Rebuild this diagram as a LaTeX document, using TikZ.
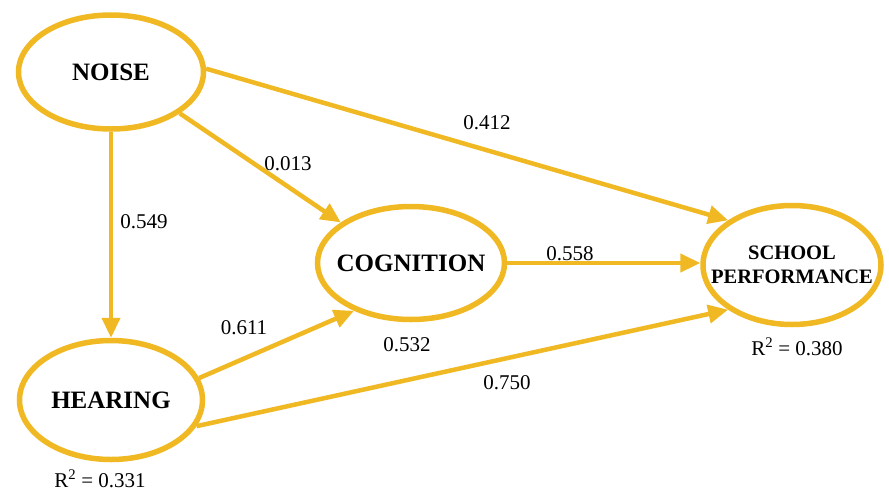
\documentclass[tikz,border=0pt]{standalone}
\usepackage{fontspec}
\setmainfont{Liberation Serif}
\usetikzlibrary{shapes.geometric,arrows.meta}
\definecolor{gold}{RGB}{240,185,35}
\tikzset{
  construct/.style={ellipse, draw=gold, line width=5.5pt, fill=white, inner sep=0pt},
  ctext/.style={font=\fontsize{25}{27}\selectfont\bfseries, align=center, inner sep=0pt},
  path/.style={draw=gold, line width=4.5pt, -{Triangle[length=20pt,width=18pt]}},
  coef/.style={font=\fontsize{21}{24}\selectfont, inner sep=0pt}
}
\begin{document}
\begin{tikzpicture}[x=1pt,y=-1pt]
\useasboundingbox (0,0) rectangle (889,491);
\fill[white] (0,0) rectangle (889,491);
\node[construct, minimum width=185pt, minimum height=114pt] (noise) at (111,72) {};
\node[construct, minimum width=183pt, minimum height=119pt] (hearing) at (111,400) {};
\node[construct, minimum width=187pt, minimum height=113pt] (cog) at (411,263) {};
\node[construct, minimum width=178pt, minimum height=119pt] (school) at (792,265) {};
\node[ctext] (tnoise) at (noise.center) {NOISE};
\node[ctext] (thearing) at (hearing.center) {HEARING};
\node[ctext] (tcog) at (cog.center) {COGNITION};
\node[ctext, font=\fontsize{20.5}{24}\selectfont\bfseries] (tschool) at (school.center) {SCHOOL\\PERFORMANCE};

\draw[path] (noise.south) -- (hearing.north);
\draw[path] (noise.-31) -- (cog.150);
\draw[path] (noise.2) -- (school.145);
\draw[path] (cog.east) -- (cog.east -| school.west);
\draw[path] (hearing.14) -- (cog.220);
\draw[path] (hearing.-17) -- (school.215);

\node[coef] (l412) at (487,123) {0.412};
\node[coef] (l013) at (288,164) {0.013};
\node[coef] (l549) at (144,222) {0.549};
\node[coef] (l558) at (570,254) {0.558};
\node[coef] (l611) at (244,328) {0.611};
\node[coef] (l532) at (407,345) {0.532};
\node[coef] (l750) at (507,383) {0.750};
\node[coef] (r380) at (797,347) {R\textsuperscript{2} = 0.380};
\node[coef] (r331) at (100,479) {R\textsuperscript{2} = 0.331};
\end{tikzpicture}
\end{document}
